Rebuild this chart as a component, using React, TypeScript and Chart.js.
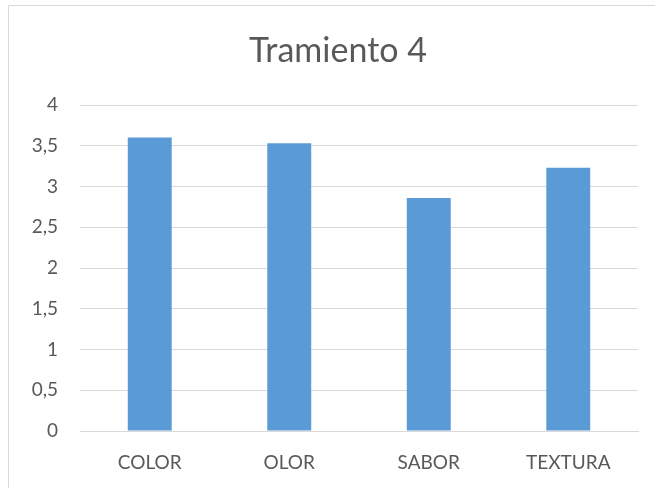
import React, { useEffect, useRef } from "react";
import { Chart, registerables } from "chart.js";

Chart.register(...registerables);

const categories = ["COLOR", "OLOR", "SABOR", "TEXTURA"];
const values = [3.6, 3.53, 2.86, 3.23];
const yTicks = [0, 0.5, 1, 1.5, 2, 2.5, 3, 3.5, 4];
const title = "Tramiento 4";

const TEXT = "#595959";
const GRID = "#d9d9d9";
const BAR = "#5b9bd5";
const FONT = "Lato, 'Open Sans', sans-serif";

const framePlugin = {
  id: "frame",
  beforeDraw(chart: any) {
    const ctx = chart.ctx;
    ctx.save();
    ctx.fillStyle = "#ffffff";
    ctx.fillRect(0, 0, chart.width, chart.height);
    ctx.strokeStyle = GRID;
    ctx.lineWidth = 1;
    ctx.beginPath();
    ctx.moveTo(8.5, chart.height);
    ctx.lineTo(8.5, 5.5);
    ctx.lineTo(chart.width, 5.5);
    ctx.stroke();
    ctx.restore();
  },
  afterDraw(chart: any) {
    const ctx = chart.ctx;
    ctx.save();
    ctx.fillStyle = TEXT;
    ctx.font = `normal 34px ${FONT}`;
    ctx.textAlign = "center";
    ctx.textBaseline = "alphabetic";
    ctx.fillText(title, 338, 62);
    ctx.restore();
  },
};

export default function App() {
  const ref = useRef<HTMLCanvasElement>(null);
  useEffect(() => {
    if (!ref.current) return;
    const chart = new Chart(ref.current, {
      type: "bar",
      data: {
        labels: categories,
        datasets: [
          {
            data: values,
            backgroundColor: BAR,
            borderWidth: 0,
            categoryPercentage: 1,
            barPercentage: 0.315,
          },
        ],
      },
      plugins: [framePlugin],
      options: {
        animation: false,
        responsive: false,
        maintainAspectRatio: false,
        layout: { padding: { top: 105, right: 17, bottom: 0, left: 0 } },
        plugins: {
          legend: { display: false },
          tooltip: { enabled: false },
          title: { display: false },
        },
        scales: {
          x: {
            grid: { display: false, drawTicks: false },
            border: { display: true, color: GRID, width: 1 },
            ticks: {
              color: TEXT,
              font: { family: FONT, size: 19 },
              padding: 20,
              maxRotation: 0,
            },
            afterFit(scale: any) {
              scale.height = 57;
            },
          },
          y: {
            min: 0,
            max: 4,
            afterBuildTicks(scale: any) {
              scale.ticks = yTicks.map((v) => ({ value: v }));
            },
            grid: { color: GRID, lineWidth: 1, drawTicks: false },
            border: { display: false },
            ticks: {
              color: TEXT,
              font: { family: FONT, size: 19 },
              padding: 22,
              callback: (v: any) => String(v).replace(".", ","),
            },
            afterFit(scale: any) {
              scale.width = 80;
            },
          },
        },
      },
    });
    return () => chart.destroy();
  }, []);
  return (
    <div style={{ position: "fixed", left: 0, top: 0, width: 655, height: 488, background: "#fff" }}>
      <canvas ref={ref} width={655} height={488} style={{ width: 655, height: 488 }} />
    </div>
  );
}
